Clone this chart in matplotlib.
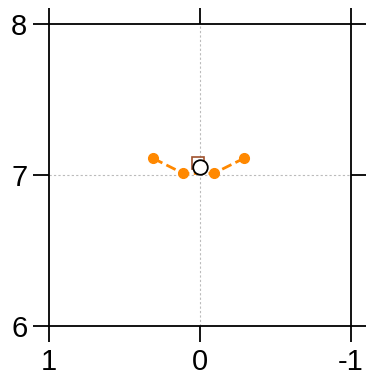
import matplotlib
matplotlib.use("Agg")
import matplotlib.pyplot as plt

plt.rcParams['font.family'] = ['Liberation Sans', 'DejaVu Sans']

# Orange series (dashed, filled dots)
orange_x = [0.31, 0.11, -0.09, -0.29]
orange_y = [7.11, 7.01, 7.01, 7.11]

# Single reference markers
square_x, square_y = [0.015], [7.08]
circle_x, circle_y = [0.0], [7.05]

x_ticks = [1, 0, -1]
y_ticks = [6, 7, 8]

fig = plt.figure(figsize=(3.66, 3.79), dpi=100)
ax = fig.add_axes([49/366, 1-326/379, 302/366, 302/379])

ax.axvline(0, color='#bbbbbb', lw=0.8, ls=(0, (2, 2)), zorder=0)
ax.axhline(7, color='#bbbbbb', lw=0.8, ls=(0, (2, 2)), zorder=0)

ax.plot(orange_x, orange_y, color='#ff8800', ls='--', lw=2, marker='o',
        ms=7, zorder=2)
ax.plot(square_x, square_y, ls='none', marker='s', ms=9, mfc='none',
        mec='#a0522d', mew=1.2, zorder=3)
ax.plot(circle_x, circle_y, ls='none', marker='o', ms=10.5, mfc='white',
        mec='black', mew=1.3, zorder=4)

ax.set_xlim(1, -1)
ax.set_ylim(6, 8)
ax.set_xticks(x_ticks)
ax.set_xticklabels([str(v) for v in x_ticks])
ax.set_yticks(y_ticks)
ax.set_yticklabels([str(v) for v in y_ticks])

for s in ax.spines.values():
    s.set_linewidth(1.3)
ax.tick_params(direction='out', length=11.5, width=1.3, labelsize=21,
               top=True, right=True, pad=4)

fig.savefig('out.png', dpi=100)
